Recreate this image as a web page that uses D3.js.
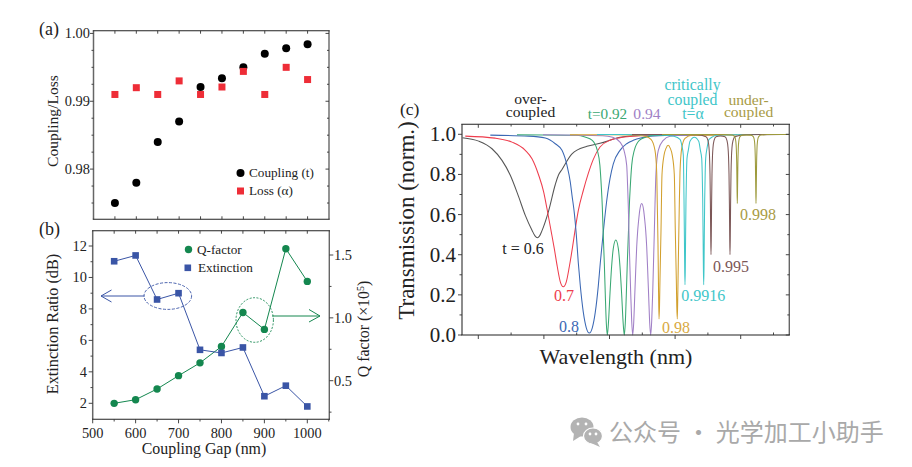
<!DOCTYPE html>
<html><head><meta charset="utf-8">
<script src="https://cdn.jsdelivr.net/npm/d3@7/dist/d3.min.js"></script>
<style>
html,body{margin:0;padding:0;background:#fff;}
svg{display:block;}
text{font-family:"Liberation Serif",serif;fill:#222;}
</style></head><body>
<svg id="c" width="912" height="467"></svg>
<script>
// Panels (a) and (b)
const gaps=[550,600,650,700,750,800,850,900,950,1000];
const coupling=[0.975,0.978,0.984,0.987,0.9921,0.9934,0.995,0.997,0.9978,0.9984];
const loss=[0.991,0.992,0.991,0.993,0.991,0.9921,0.9944,0.991,0.995,0.9932];
const extinction=[11.03,11.4,8.6,9.0,5.4,5.2,5.55,2.45,3.12,1.8];
const qFactor=[0.32,0.349,0.434,0.54,0.642,0.772,1.043,0.908,1.55,1.29];
const aTicks=[0.98,0.99,1.00];
const aMinor=[0.975,0.9775,0.9825,0.985,0.9875,0.9925,0.995,0.9975];
const bLeftTicks=[2,4,6,8,10,12];
const bLeftMinor=[3,5,7,9,11];
const bRightTicks=[0.5,1.0,1.5];
const bRightMinor=[0.25,0.75,1.25];
const gapTicks=[500,600,700,800,900,1000];
const gapMinor=[550,650,750,850,950,1050];

// Panel (c): wavelength (arb. units) and normalised transmission, read per curve
const wlBlack=[0.3,16.7,30,40,48.3,56.7,63.3,70,73,75.3,77.6,80,86.7,93.3,96.3,100,110,125,138,158,180,200];
const tBlack=[.983,.966,.928,.870,.796,.688,.596,.522,.494,.485,.494,.52,.62,.75,.795,.825,.903,.94,.955,.985,.995,.998];
const wlRed=[3.3,33,50,63.3,70,76.7,81.7,85,89.3,92.3,95.3,98.3,101.3,104.3,107.3,110.3,113.3,116.3,121.3,126.3,131.3,138,148,158,171,185,216];
const tRed=[.991,.981,.961,.92,.878,.796,.712,.629,.513,.43,.34,.265,.24,.265,.34,.43,.53,.62,.72,.805,.875,.937,.97,.983,.99,.995,.998];
const wlBlue=[28.3,66.7,83.3,93.3,100,105,108.3,110,112.5,114.3,116.3,118.3,121.3,124.3,127.3,130.3,133.3,136.3,138.3,141.3,144.5,148,151.3,158,164.7,171.3,179.7,188,215,240];
const tBlue=[.996,.991,.981,.953,.92,.845,.762,.696,.60,.5,.36,.245,.114,.036,.01,.036,.114,.245,.36,.513,.66,.779,.853,.92,.953,.97,.983,.991,.996,.998];
const wlGreen=[55,115,123,130.3,135.3,137.9,139.3,140.3,141.1,142.3,143.3,144.3,145.3,146.3,148,149.6,151.3,153.8,156.3,158,159.6,161.3,162.3,163.3,164.3,165.3,166.5,167.3,168.3,169.7,172.3,177.3,184.3,192.3,215,260];
const tGreen=[.998,.995,.987,.97,.92,.845,.74,.64,.52,.36,.2,.06,0,.05,.208,.34,.432,.473,.432,.34,.208,.05,0,.06,.2,.36,.52,.64,.74,.845,.92,.97,.987,.995,.998,.998];
const wlPurple=[81,140.7,150.7,158,162,164.7,165.7,166.3,167.3,168.7,169.7,170.7,171.7,172.7,173.7,174.7,175.7,176.7,177.7,179.7,181.7,182.7,183.7,184.7,185.7,186.7,187.7,188.7,189.7,190.7,192.3,193,194,196.3,201.3,208,218.7,275];
const tPurple=[.998,.993,.985,.961,.92,.845,.73,.64,.44,.21,.07,0,.06,.19,.32,.44,.52,.575,.62,.655,.62,.575,.52,.44,.32,.19,.06,0,.07,.21,.51,.65,.81,.92,.97,.99,.995,.998];
const wlGold=[108,172,183,189,193,194.7,195.3,196,196.5,197,197.5,198,199,200,202,204,206.15,208.3,210.3,212.3,213.3,214.3,214.8,215.3,215.8,216.3,217.3,218,219.7,223,230,290];
const tGold=[.998,.997,.99,.975,.92,.81,.65,.45,.24,.08,.14,.28,.52,.80,.895,.93,.945,.93,.895,.80,.52,.28,.14,.08,.2,.36,.65,.81,.93,.98,.995,.998];
const wlCyan=[135,200,212,218,220,221.3,222,222.4,222.7,223,223.3,223.6,224,224.5,225,226.3,228,232.35,236.7,238.4,239.7,240.2,240.7,241.1,241.4,241.7,242,242.3,242.7,243.2,243.7,245,247,256.7,310];
const tCyan=[.999,.997,.99,.975,.94,.897,.677,.491,.33,.25,.33,.491,.677,.81,.88,.92,.965,.985,.965,.92,.88,.81,.677,.491,.33,.25,.33,.491,.677,.81,.88,.93,.975,.997,.999];
const wlBrown=[170,235,244,246,247,247.5,248,248.4,248.7,249,249.3,249.6,250,250.5,251,252,254,258.5,263,265,266,266.5,267,267.4,267.7,268,268.3,268.6,269,269.5,270,271,273,283,320];
const tBrown=[.999,.998,.988,.969,.934,.893,.803,.654,.493,.40,.493,.654,.803,.893,.934,.969,.988,.992,.988,.969,.934,.893,.803,.654,.493,.40,.493,.654,.803,.893,.934,.969,.988,.998,.999];
const wlOlive=[200,262,270.3,272.3,273.3,273.8,274.3,274.7,275,275.3,275.6,275.9,276.3,276.8,277.3,278.3,280.3,284.65,289,291,292,292.5,293,293.4,293.7,294,294.3,294.6,295,295.5,296,297,299,305,327.3];
const tOlive=[.999,.999,.996,.99,.98,.965,.931,.859,.746,.655,.746,.859,.931,.965,.98,.99,.996,.997,.996,.99,.98,.965,.931,.859,.746,.655,.746,.859,.931,.965,.98,.99,.996,.999,.999];

const curves=[
 {x:wlBlack,y:tBlack,c:"#555555"},
 {x:wlRed,y:tRed,c:"#ee3d4d"},
 {x:wlBlue,y:tBlue,c:"#3b68b4"},
 {x:wlGreen,y:tGreen,c:"#3aa873"},
 {x:wlPurple,y:tPurple,c:"#a07fc6"},
 {x:wlGold,y:tGold,c:"#d2a02e"},
 {x:wlCyan,y:tCyan,c:"#3fc6c9"},
 {x:wlBrown,y:tBrown,c:"#7c5757"},
 {x:wlOlive,y:tOlive,c:"#9d9a3c"}];
const wlMajor=[16.3,81.9,147.5,213.1,278.7];
const wlMinor=[49.1,114.7,180.3,245.9,311.5];
const tTicks=[0,0.2,0.4,0.6,0.8,1.0];
const tMinor=[0.1,0.3,0.5,0.7,0.9];

const svg=d3.select("#c");
const frameCol="#333";

function frame(l,t,r,b){
  const g=svg.append("g");
  const seg=(x1,y1,x2,y2,c,w)=>g.append("line").attr("x1",x1).attr("y1",y1).attr("x2",x2).attr("y2",y2).attr("stroke",c).attr("stroke-width",w);
  seg(l,t,l,b,"#666",1.5);
  seg(r,t,r,b,"#666",1.4);
  seg(l-.7,t,r+.7,t,"#222",1.1);
  seg(l-.7,b,r+.7,b,"#222",1.1);
}
function ticks(scale,vals,orient,pos,len){
  const g=svg.append("g").attr("stroke",frameCol).attr("stroke-width",0.9);
  vals.forEach(v=>{
    const p=scale(v);
    if(orient==="h") g.append("line").attr("x1",p).attr("x2",p).attr("y1",pos).attr("y2",pos+len);
    else g.append("line").attr("y1",p).attr("y2",p).attr("x1",pos).attr("x2",pos+len);
  });
}
function label(x,y,s,size,opt={}){
  const t=svg.append("text").attr("x",x).attr("y",y).attr("font-size",size)
    .attr("text-anchor",opt.anchor||"start").text(s);
  if(opt.fill) t.style("fill",opt.fill);
  if(opt.rot!==undefined) t.attr("transform",`rotate(${opt.rot} ${x} ${y})`);
  return t;
}
function block(lines,size,fill){
  const t=svg.append("text").attr("font-size",size).attr("text-anchor","middle");
  if(fill) t.style("fill",fill);
  lines.forEach(l=>t.append("tspan").attr("x",l[0]).attr("y",l[1]).text(l[2]));
}

// ---------- (a)
const ax=d3.scaleLinear().domain([500,1050]).range([93.5,329]);
const ay=d3.scaleLinear().domain([0.9726,1.0004]).range([219.3,30.7]);
frame(93.5,30.7,329,219.3);
ticks(ax,gaps,"h",219.3,-3);
ticks(ax,gaps,"h",30.7,3);
ticks(ay,aTicks,"v",93.5,-3.5);
ticks(ay,aMinor,"v",93.5,-2);
ticks(ay,aTicks,"v",329,-3.5);
ticks(ay,aMinor,"v",329,-2);
aTicks.forEach(v=>label(90,ay(v)+4.5,v.toFixed(2),14.4,{anchor:"end"}));
label(58,121,"Coupling/Loss",15.6,{anchor:"middle",rot:-90});
label(39,35,"(a)",18);
svg.append("g").selectAll("circle").data(gaps).join("circle")
  .attr("cx",d=>ax(d)).attr("cy",(d,i)=>ay(coupling[i])).attr("r",4).attr("fill","#000");
svg.append("g").selectAll("rect").data(gaps).join("rect")
  .attr("x",d=>ax(d)-3.5).attr("y",(d,i)=>ay(loss[i])-3.5).attr("width",7).attr("height",7).attr("fill","#ee2d37");
svg.append("circle").attr("cx",240.5).attr("cy",173).attr("r",4).attr("fill","#000");
svg.append("rect").attr("x",237).attr("y",187.5).attr("width",7).attr("height",7).attr("fill","#ee2d37");
label(249,177,"Coupling (t)",13.2);
label(249,195,"Loss (α)",13.2);

// ---------- (b)
const bx=d3.scaleLinear().domain([500,1000]).range([92.7,307.3]);
const by=d3.scaleLinear().domain([2,12]).range([403.3,246]);
const br=d3.scaleLinear().domain([0.5,1.5]).range([380.7,255]);
frame(92.7,230.7,329.3,419.3);
ticks(bx,gapTicks,"h",419.3,4);
ticks(bx,gapMinor,"h",419.3,2.2);
ticks(bx,gaps,"h",230.7,3);
ticks(by,bLeftTicks,"v",92.7,-4);
ticks(by,bLeftMinor,"v",92.7,-2.2);
ticks(br,bRightTicks,"v",329.3,4);
ticks(br,bRightMinor,"v",329.3,2.2);
bLeftTicks.forEach(v=>label(87,by(v)+5,String(v),14.4,{anchor:"end"}));
bRightTicks.forEach(v=>label(334,br(v)+5,v.toFixed(1),14.4));
gapTicks.forEach(v=>label(bx(v),438,String(v),14.4,{anchor:"middle"}));
label(204,454,"Coupling Gap (nm)",15.9,{anchor:"middle"});
label(58,324,"Extinction Ratio (dB)",16.2,{anchor:"middle",rot:-90});
const qLab=svg.append("text").attr("x",369).attr("y",329).attr("font-size",15.8)
  .attr("text-anchor","middle").attr("transform","rotate(-90 369 329)");
qLab.append("tspan").text("Q factor (×10");
qLab.append("tspan").attr("dy",-5).attr("font-size",10).text("5");
qLab.append("tspan").attr("dy",5).text(")");
label(39,235,"(b)",18);

const blueB="#3a55a6", greenB="#14874f";
const lineB=d3.line().x(d=>bx(d)).curve(d3.curveLinear);
svg.append("path").attr("fill","none").attr("stroke",greenB).attr("stroke-width",1)
  .attr("d",lineB.y((d,i)=>br(qFactor[i]))(gaps));
svg.append("path").attr("fill","none").attr("stroke",blueB).attr("stroke-width",1)
  .attr("d",lineB.y((d,i)=>by(extinction[i]))(gaps));
svg.append("g").selectAll("circle").data(gaps).join("circle")
  .attr("cx",d=>bx(d)).attr("cy",(d,i)=>br(qFactor[i])).attr("r",3.7).attr("fill",greenB);
svg.append("g").selectAll("rect").data(gaps).join("rect")
  .attr("x",d=>bx(d)-3.3).attr("y",(d,i)=>by(extinction[i])-3.3).attr("width",6.6).attr("height",6.6).attr("fill",blueB);
svg.append("circle").attr("cx",188.5).attr("cy",249.5).attr("r",3.7).attr("fill",greenB);
svg.append("rect").attr("x",184.5).attr("y",264.5).attr("width",6.6).attr("height",6.6).attr("fill",blueB);
label(197,254,"Q-factor",13.2);
label(198,272,"Extinction",13.2);
svg.append("ellipse").attr("cx",167.8).attr("cy",296).attr("rx",23.8).attr("ry",13.4)
  .attr("fill","none").attr("stroke",blueB).attr("stroke-width",0.9).attr("stroke-dasharray","3 1.5");
svg.append("ellipse").attr("cx",254.7).attr("cy",320).attr("rx",18.7).attr("ry",22.3)
  .attr("fill","none").attr("stroke",greenB).attr("stroke-width",0.9).attr("stroke-dasharray","2 1.5");
svg.append("path").attr("fill","none").attr("stroke",blueB).attr("stroke-width",1)
  .attr("d","M144.5 296H101M111.5 290L101 296L111.5 302");
svg.append("path").attr("fill","none").attr("stroke",greenB).attr("stroke-width",1)
  .attr("d","M272 316H320M309 309.5L320 316L309 322");

// ---------- (c)
const cx=d3.scaleLinear().domain([0,327.3]).range([462,789.3]);
const cy=d3.scaleLinear().domain([0,1]).range([335,134.3]);
const lineC=d3.line().curve(d3.curveMonotoneX);
curves.forEach(s=>{
  svg.append("path").attr("fill","none").attr("stroke",s.c).attr("stroke-width",1.05)
    .attr("d",lineC(s.x.map((v,i)=>[cx(v),cy(s.y[i])])));
});
frame(462,124.3,789.3,335);
ticks(cx,wlMajor,"h",335,4);
ticks(cx,wlMinor,"h",335,-2.5);
ticks(cx,wlMajor,"h",124.3,3.5);
ticks(cx,wlMinor,"h",124.3,2.2);
ticks(cy,tTicks,"v",462,-4);
ticks(cy,tMinor,"v",462,-2.5);
ticks(cy,tTicks,"v",789.3,-3.5);
ticks(cy,tMinor,"v",789.3,-2);
tTicks.forEach(v=>label(456,cy(v)+7,v.toFixed(1),21,{anchor:"end"}));
label(413.5,220.5,"Transmission (norm.)",23,{anchor:"middle",rot:-90});
label(616,363.5,"Wavelength (nm)",22,{anchor:"middle"});
label(400,115,"(c)",17.5);
const cGreen="#3aa873",cPurple="#a07fc6",cCyan="#3fc6c9",cTan="#a89b45";
block([[530.5,104,"over-"],[530.5,116.7,"coupled"]],15.6);
label(607.5,119,"t=0.92",15.2,{anchor:"middle",fill:cGreen});
label(647,119,"0.94",15.6,{anchor:"middle",fill:cPurple});
block([[692.5,90,"critically"],[692.5,105,"coupled"],[693,119,"t=α"]],15.8,cCyan);
block([[748.6,105,"under-"],[748.6,117.3,"coupled"]],15.6,cTan);
label(523,254,"t = 0.6",16,{anchor:"middle"});
label(564,300.7,"0.7",16,{anchor:"middle",fill:"#ee3d4d"});
label(569,332,"0.8",16,{anchor:"middle",fill:"#3b68b4"});
label(676,333,"0.98",16,{anchor:"middle",fill:"#d8a93f"});
label(703.3,300.7,"0.9916",16,{anchor:"middle",fill:cCyan});
label(731,272.3,"0.995",16,{anchor:"middle",fill:"#7c5757"});
label(758,219.8,"0.998",16,{anchor:"middle",fill:cTan});

// ---------- watermark
const wm=svg.append("g").attr("fill","#b3b3b3");
wm.append("ellipse").attr("cx",582).attr("cy",427).attr("rx",11.5).attr("ry",9.5);
wm.append("path").attr("d","M574 433L573 441L581 436Z");
wm.append("ellipse").attr("cx",593).attr("cy",436).attr("rx",9.5).attr("ry",8).attr("stroke","#fff").attr("stroke-width",1.2);
wm.append("path").attr("d","M597 442L600 447L591 443Z");
[[578,424],[586,424],[590,434],[596,434]].forEach(p=>wm.append("circle").attr("cx",p[0]).attr("cy",p[1]).attr("r",1.4).attr("fill","#fff"));
svg.append("text").attr("x",609).attr("y",440.5).attr("font-size",24)
  .style("font-family",'"Noto Sans CJK SC",sans-serif').style("fill","#a9a9a9")
  .text("公众号 · 光学加工小助手");
</script>
</body></html>
